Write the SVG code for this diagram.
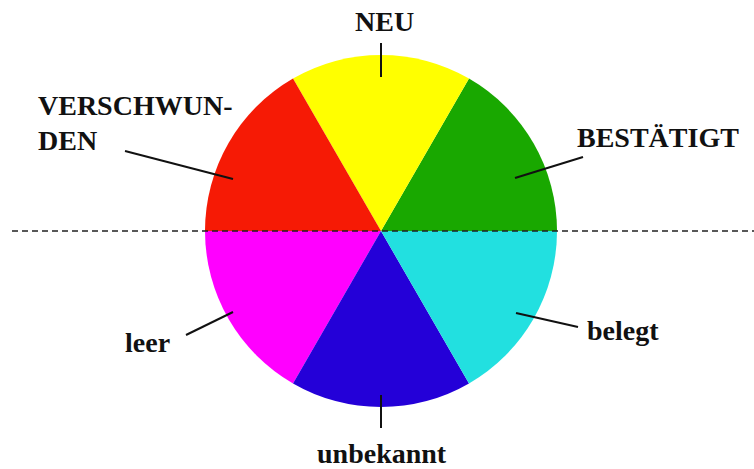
<svg xmlns="http://www.w3.org/2000/svg" width="754" height="469" viewBox="0 0 754 469">
<style>
.lbl{font-family:"Liberation Serif","Times New Roman",serif;font-weight:bold;font-size:28px;fill:#111}
.lead{stroke:#111;stroke-width:2;fill:none}
</style>
<rect width="754" height="469" fill="#fff"/>
<g id="pie">
<g id="bestaetigt-sector"><path d="M381,231 L557,231 A176,176 0 0 0 469,78.6 Z" fill="#19A800"/></g>
<g id="neu-sector"><path d="M381,231 L469,78.6 A176,176 0 0 0 293,78.6 Z" fill="#FFFF00"/></g>
<g id="verschwunden-sector"><path d="M381,231 L293,78.6 A176,176 0 0 0 205,231 Z" fill="#F61A05"/></g>
<g id="leer-sector"><path d="M381,231 L205,231 A176,176 0 0 0 293,383.4 Z" fill="#FF00FF"/></g>
<g id="unbekannt-sector"><path d="M381,231 L293,383.4 A176,176 0 0 0 469,383.4 Z" fill="#2400D8"/></g>
<g id="belegt-sector"><path d="M381,231 L469,383.4 A176,176 0 0 0 557,231 Z" fill="#22E0E0"/></g>
</g>
<g id="connectors">
<line x1="12" y1="231" x2="754" y2="231" stroke="#222" stroke-width="1.5" stroke-dasharray="6,4"/>
<line class="lead" x1="381" y1="43" x2="381" y2="77"/>
<line class="lead" x1="125" y1="151" x2="233" y2="179"/>
<line class="lead" x1="583" y1="157" x2="515" y2="178"/>
<line class="lead" x1="186" y1="335" x2="233" y2="312"/>
<line class="lead" x1="578" y1="327" x2="516" y2="313"/>
<line class="lead" x1="381" y1="395" x2="381" y2="428"/>
</g>
<g id="label-neu"><text class="lbl" x="355" y="31">NEU</text></g>
<g id="label-verschwunden"><text class="lbl" x="38" y="115">VERSCHWUN-</text><text class="lbl" x="38" y="150">DEN</text></g>
<g id="label-bestaetigt"><text class="lbl" x="577" y="147">BESTÄTIGT</text></g>
<g id="label-leer"><text class="lbl" x="125" y="352">leer</text></g>
<g id="label-belegt"><text class="lbl" x="587" y="340">belegt</text></g>
<g id="label-unbekannt"><text class="lbl" x="317" y="463">unbekannt</text></g>
</svg>
